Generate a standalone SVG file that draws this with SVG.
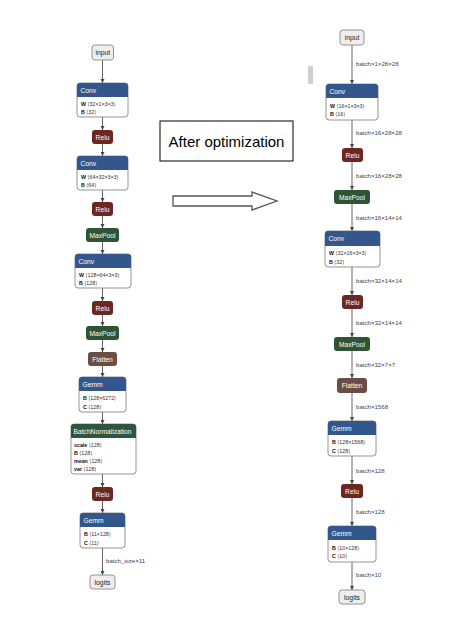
<svg xmlns="http://www.w3.org/2000/svg" width="454" height="642" viewBox="0 0 454 642">
<style>
text{font-family:"Liberation Sans","DejaVu Sans",Arial,sans-serif}
.io{fill:#eeeeee;stroke:#888;stroke-width:0.9}
.iot{font-size:6.8px;fill:#222;text-anchor:middle}
.body{fill:#fff;stroke:#888;stroke-width:0.9}
.layer{fill:#33578c}
.act{fill:#6e2620}
.pool{fill:#2f5434}
.norm{fill:#30553f}
.shape{fill:#6a4e46}
.tt{font-size:6.7px;fill:#fff}
.ttc{font-size:6.7px;fill:#fff;text-anchor:middle}
.at{font-size:5.3px;fill:#333}
.k{font-weight:bold;fill:#111}
.el{font-size:6.1px;fill:#444}
.edge{stroke:#555;stroke-width:0.9;fill:none;marker-end:url(#ah)}
</style>
<defs>
<marker id="ah" markerWidth="5" markerHeight="5" refX="4" refY="2" orient="auto" markerUnits="userSpaceOnUse">
<path d="M0,0 L4,2 L0,4 Z" fill="#444"/>
</marker>
</defs>
<rect width="454" height="642" fill="#fff"/>

<g id="connectors">
<line class="edge" x1="102.5" y1="60" x2="102.5" y2="83"/>
<line class="edge" x1="102.5" y1="117" x2="102.5" y2="130"/>
<line class="edge" x1="102.5" y1="144" x2="102.5" y2="156"/>
<line class="edge" x1="102.5" y1="190" x2="102.5" y2="202"/>
<line class="edge" x1="102.5" y1="216" x2="102.5" y2="228"/>
<line class="edge" x1="102.5" y1="242" x2="102.5" y2="254"/>
<line class="edge" x1="102.5" y1="288" x2="102.5" y2="301"/>
<line class="edge" x1="102.5" y1="315" x2="102.5" y2="326"/>
<line class="edge" x1="102.5" y1="340" x2="102.5" y2="352"/>
<line class="edge" x1="102.5" y1="366" x2="102.5" y2="377"/>
<line class="edge" x1="102.5" y1="412" x2="102.5" y2="424"/>
<line class="edge" x1="102.5" y1="474" x2="102.5" y2="487"/>
<line class="edge" x1="102.5" y1="501" x2="102.5" y2="513"/>
<line class="edge" x1="102.5" y1="548" x2="102.5" y2="575"/>
<text class="el" x="106" y="563">batch_size×11</text>

<line class="edge" x1="352" y1="45" x2="352" y2="84"/>
<line class="edge" x1="352" y1="120" x2="352" y2="148"/>
<line class="edge" x1="352" y1="162" x2="352" y2="190"/>
<line class="edge" x1="352" y1="204" x2="352" y2="231"/>
<line class="edge" x1="352" y1="267" x2="352" y2="295"/>
<line class="edge" x1="352" y1="309" x2="352" y2="337"/>
<line class="edge" x1="352" y1="351" x2="352" y2="378"/>
<line class="edge" x1="352" y1="393" x2="352" y2="421"/>
<line class="edge" x1="352" y1="456" x2="352" y2="484"/>
<line class="edge" x1="352" y1="498" x2="352" y2="526"/>
<line class="edge" x1="352" y1="562" x2="352" y2="590"/>
<text class="el" x="356" y="66">batch×1×28×28</text>
<text class="el" x="356" y="135">batch×16×28×28</text>
<text class="el" x="356" y="178">batch×16×28×28</text>
<text class="el" x="356" y="220">batch×16×14×14</text>
<text class="el" x="356" y="283">batch×32×14×14</text>
<text class="el" x="356" y="325">batch×32×14×14</text>
<text class="el" x="356" y="367">batch×32×7×7</text>
<text class="el" x="356" y="409">batch×1568</text>
<text class="el" x="356" y="473">batch×128</text>
<text class="el" x="356" y="514">batch×128</text>
<text class="el" x="356" y="577">batch×10</text>
</g>

<!-- Left graph -->
<g id="L_input"><rect class="io" x="92" y="45" width="21.5" height="15" rx="3"/><text class="iot" x="102.8" y="55">input</text></g>
<g id="L_conv1"><rect class="body" x="77" y="83" width="51" height="34" rx="3"/><path class="layer" d="M77,97 V86 Q77,83 80,83 H125 Q128,83 128,86 V97 Z"/><text class="tt" x="80.5" y="92.5">Conv</text><text class="at" x="81" y="105.5"><tspan class="k">W</tspan> ⟨32×1×3×3⟩</text><text class="at" x="81" y="113.5"><tspan class="k">B</tspan> ⟨32⟩</text></g>
<g id="L_relu1"><rect class="act" x="92" y="130" width="21" height="14" rx="3"/><text class="ttc" x="102.5" y="139.5">Relu</text></g>
<g id="L_conv2"><rect class="body" x="77" y="156" width="51" height="34" rx="3"/><path class="layer" d="M77,170 V159 Q77,156 80,156 H125 Q128,156 128,159 V170 Z"/><text class="tt" x="80.5" y="165.5">Conv</text><text class="at" x="81" y="178.5"><tspan class="k">W</tspan> ⟨64×32×3×3⟩</text><text class="at" x="81" y="186.5"><tspan class="k">B</tspan> ⟨64⟩</text></g>
<g id="L_relu2"><rect class="act" x="92" y="202" width="21" height="14" rx="3"/><text class="ttc" x="102.5" y="211.5">Relu</text></g>
<g id="L_maxpool1"><rect class="pool" x="86" y="228" width="33" height="14" rx="3"/><text class="ttc" x="102.5" y="237.5">MaxPool</text></g>
<g id="L_conv3"><rect class="body" x="75" y="254" width="56" height="34" rx="3"/><path class="layer" d="M75,268 V257 Q75,254 78,254 H128 Q131,254 131,257 V268 Z"/><text class="tt" x="78.5" y="263.5">Conv</text><text class="at" x="79" y="276.5"><tspan class="k">W</tspan> ⟨128×64×3×3⟩</text><text class="at" x="79" y="284.5"><tspan class="k">B</tspan> ⟨128⟩</text></g>
<g id="L_relu3"><rect class="act" x="92" y="301" width="21" height="14" rx="3"/><text class="ttc" x="102.5" y="310.5">Relu</text></g>
<g id="L_maxpool2"><rect class="pool" x="86" y="326" width="33" height="14" rx="3"/><text class="ttc" x="102.5" y="335.5">MaxPool</text></g>
<g id="L_flatten"><rect class="shape" x="88" y="352" width="29" height="14" rx="3"/><text class="ttc" x="102.5" y="361.5">Flatten</text></g>
<g id="L_gemm1"><rect class="body" x="79" y="377" width="47" height="35" rx="3"/><path class="layer" d="M79,391 V380 Q79,377 82,377 H123 Q126,377 126,380 V391 Z"/><text class="tt" x="82.5" y="386.5">Gemm</text><text class="at" x="83" y="400"><tspan class="k">B</tspan> ⟨128×6272⟩</text><text class="at" x="83" y="408.5"><tspan class="k">C</tspan> ⟨128⟩</text></g>
<g id="L_bn"><rect class="body" x="71" y="424" width="65" height="50" rx="3"/><path class="norm" d="M71,438 V427 Q71,424 74,424 H133 Q136,424 136,427 V438 Z"/><text class="tt" x="73.5" y="433.5">BatchNormalization</text><text class="at" x="74" y="446.5"><tspan class="k">scale</tspan> ⟨128⟩</text><text class="at" x="74" y="454.5"><tspan class="k">B</tspan> ⟨128⟩</text><text class="at" x="74" y="463"><tspan class="k">mean</tspan> ⟨128⟩</text><text class="at" x="74" y="471"><tspan class="k">var</tspan> ⟨128⟩</text></g>
<g id="L_relu4"><rect class="act" x="92" y="487" width="21" height="14" rx="3"/><text class="ttc" x="102.5" y="496.5">Relu</text></g>
<g id="L_gemm2"><rect class="body" x="80" y="513" width="45" height="35" rx="3"/><path class="layer" d="M80,527 V516 Q80,513 83,513 H122 Q125,513 125,516 V527 Z"/><text class="tt" x="83.5" y="522.5">Gemm</text><text class="at" x="84" y="536"><tspan class="k">B</tspan> ⟨11×128⟩</text><text class="at" x="84" y="544.5"><tspan class="k">C</tspan> ⟨11⟩</text></g>
<g id="L_logits"><rect class="io" x="90" y="575" width="25" height="14" rx="3"/><text class="iot" x="102.5" y="584.5">logits</text></g>

<!-- Middle -->
<g id="caption"><rect x="160" y="121" width="133" height="40" fill="#fff" stroke="#000" stroke-width="1"/><text x="226.5" y="147" font-size="15" fill="#000" text-anchor="middle">After optimization</text></g>
<g id="arrow"><polygon points="173,196 252,196 252,192 277,201 252,210 252,206 173,206" fill="#fff" stroke="#555" stroke-width="1.3"/></g>
<rect x="308" y="66" width="5" height="18" fill="#cfcfcf"/>

<!-- Right graph -->
<g id="R_input"><rect class="io" x="340" y="30" width="24" height="15" rx="3"/><text class="iot" x="352" y="40">input</text></g>
<g id="R_conv1"><rect class="body" x="326" y="84" width="52" height="36" rx="3"/><path class="layer" d="M326,98 V87 Q326,84 329,84 H375 Q378,84 378,87 V98 Z"/><text class="tt" x="329.5" y="93.5">Conv</text><text class="at" x="330" y="107.5"><tspan class="k">W</tspan> ⟨16×1×3×3⟩</text><text class="at" x="330" y="116"><tspan class="k">B</tspan> ⟨16⟩</text></g>
<g id="R_relu1"><rect class="act" x="342" y="148" width="21" height="14" rx="3"/><text class="ttc" x="352.5" y="157.5">Relu</text></g>
<g id="R_maxpool1"><rect class="pool" x="334" y="190" width="36" height="14" rx="3"/><text class="ttc" x="352" y="199.5">MaxPool</text></g>
<g id="R_conv2"><rect class="body" x="325" y="231" width="55" height="36" rx="3"/><path class="layer" d="M325,246 V234 Q325,231 328,231 H377 Q380,231 380,234 V246 Z"/><text class="tt" x="328.5" y="241">Conv</text><text class="at" x="329" y="254.5"><tspan class="k">W</tspan> ⟨32×16×3×3⟩</text><text class="at" x="329" y="263.5"><tspan class="k">B</tspan> ⟨32⟩</text></g>
<g id="R_relu2"><rect class="act" x="342" y="295" width="21" height="14" rx="3"/><text class="ttc" x="352.5" y="304.5">Relu</text></g>
<g id="R_maxpool2"><rect class="pool" x="334" y="337" width="36" height="14" rx="3"/><text class="ttc" x="352" y="346.5">MaxPool</text></g>
<g id="R_flatten"><rect class="shape" x="337" y="378" width="30" height="15" rx="3"/><text class="ttc" x="352" y="388">Flatten</text></g>
<g id="R_gemm1"><rect class="body" x="328" y="421" width="48" height="35" rx="3"/><path class="layer" d="M328,435 V424 Q328,421 331,421 H373 Q376,421 376,424 V435 Z"/><text class="tt" x="331.5" y="430.5">Gemm</text><text class="at" x="332" y="443.5"><tspan class="k">B</tspan> ⟨128×1568⟩</text><text class="at" x="332" y="452.5"><tspan class="k">C</tspan> ⟨128⟩</text></g>
<g id="R_relu3"><rect class="act" x="341" y="484" width="22" height="14" rx="3"/><text class="ttc" x="352" y="493.5">Relu</text></g>
<g id="R_gemm2"><rect class="body" x="328" y="526" width="48" height="36" rx="3"/><path class="layer" d="M328,540 V529 Q328,526 331,526 H373 Q376,526 376,529 V540 Z"/><text class="tt" x="331.5" y="535.5">Gemm</text><text class="at" x="332" y="549.5"><tspan class="k">B</tspan> ⟨10×128⟩</text><text class="at" x="332" y="558"><tspan class="k">C</tspan> ⟨10⟩</text></g>
<g id="R_logits"><rect class="io" x="339" y="590" width="26" height="14" rx="3"/><text class="iot" x="352" y="599.5">logits</text></g>
</svg>
